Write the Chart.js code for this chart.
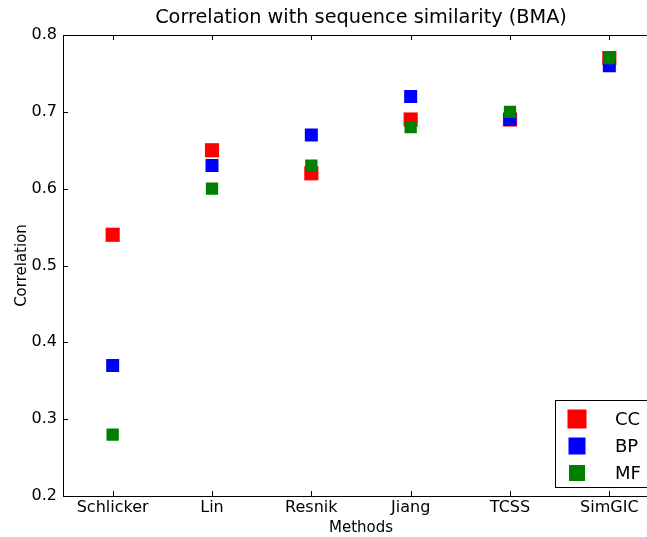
<!DOCTYPE html>
<html>
<head>
<meta charset="utf-8">
<script src="https://cdn.jsdelivr.net/npm/chart.js@4/dist/chart.umd.min.js"></script>
<style>
  html, body { margin: 0; padding: 0; overflow: hidden; background: #fff; }
  #wrap { width: 647px; height: 537px; overflow: hidden; }
</style>
</head>
<body>
<div id="wrap"><canvas id="corrChart" width="670" height="537"></canvas></div>
<script>
// Correlation with sequence similarity (BMA)
const methods = ["Schlicker", "Lin", "Resnik", "Jiang", "TCSS", "SimGIC"];
const ccValues = [0.54, 0.65, 0.62, 0.69, 0.69, 0.77];
const bpValues = [0.37, 0.63, 0.67, 0.72, 0.69, 0.76];
const mfValues = [0.28, 0.60, 0.63, 0.68, 0.70, 0.77];
const seriesNames = ["CC", "BP", "MF"];
const yTicks = [0.2, 0.3, 0.4, 0.5, 0.6, 0.7, 0.8];
const chartTitle = "Correlation with sequence similarity (BMA)";

const FONT = "'DejaVu Sans', sans-serif";

function series(label, data, color, radius, order) {
  return {
    label,
    data,
    showLine: false,
    pointStyle: "rect",
    pointRadius: radius,
    pointHoverRadius: radius,
    pointBackgroundColor: color,
    pointBorderColor: color,
    pointBorderWidth: 0,
    borderColor: color,
    backgroundColor: color,
    order,
  };
}

// title over the axes, frame, inward ticks and the boxed legend like matplotlib
const framePlugin = {
  id: "frame",
  afterDraw(chart) {
    const { ctx, chartArea: a, scales } = chart;
    const len = 5;
    ctx.save();
    ctx.fillStyle = "#000";
    ctx.font = "19.3px " + FONT;
    ctx.textAlign = "center";
    ctx.textBaseline = "middle";
    ctx.fillText(chartTitle, (a.left + a.right) / 2, 18);

    ctx.strokeStyle = "#000";
    ctx.lineWidth = 1;
    ctx.strokeRect(a.left + 0.5, a.top + 0.5, a.right - a.left, a.bottom - a.top);
    ctx.beginPath();
    methods.forEach((m, i) => {
      const x = Math.round(scales.x.getPixelForValue(i)) + 0.5;
      ctx.moveTo(x, a.bottom);
      ctx.lineTo(x, a.bottom - len);
      ctx.moveTo(x, a.top);
      ctx.lineTo(x, a.top + len);
    });
    yTicks.forEach((v) => {
      const y = Math.round(scales.y.getPixelForValue(v)) + 0.5;
      ctx.moveTo(a.left, y);
      ctx.lineTo(a.left + len, y);
      ctx.moveTo(a.right, y);
      ctx.lineTo(a.right - len, y);
    });
    ctx.stroke();

    // legend box
    const bx = 555, by = 400, bw = 120, bh = 87;
    ctx.fillStyle = "#fff";
    ctx.fillRect(bx, by, bw, bh);
    ctx.strokeRect(bx + 0.5, by + 0.5, bw, bh);
    const sizes = [19, 17, 16];
    const rows = [419, 446, 473];
    chart.data.datasets.forEach((ds, i) => {
      const s = sizes[i];
      ctx.fillStyle = ds.backgroundColor;
      ctx.fillRect(577 - s / 2, rows[i] - s / 2, s, s);
      ctx.fillStyle = "#000";
      ctx.font = "18px " + FONT;
      ctx.textAlign = "left";
      ctx.textBaseline = "middle";
      ctx.fillText(ds.label, 615, rows[i] + 1);
    });
    ctx.restore();
  },
};

new Chart(document.getElementById("corrChart"), {
  type: "line",
  data: {
    labels: methods,
    datasets: [
      series(seriesNames[0], ccValues, "#ff0000", 10, 3),
      series(seriesNames[1], bpValues, "#0000ff", 9.2, 2),
      series(seriesNames[2], mfValues, "#008000", 8.7, 1),
    ],
  },
  options: {
    responsive: false,
    animation: false,
    // the axes run past the right edge of the picture (clipped by #wrap)
    layout: { padding: { left: 0, right: 11, top: 35, bottom: 0 } },
    plugins: {
      legend: { display: false },
      tooltip: { enabled: false },
      title: { display: false },
    },
    scales: {
      x: {
        type: "category",
        offset: true,
        grid: { display: false, drawTicks: false },
        border: { display: false },
        ticks: {
          color: "#000",
          padding: 2,
          maxRotation: 0,
          font: { family: FONT, size: 16, lineHeight: 1.2 },
        },
        title: {
          display: true,
          text: "Methods",
          color: "#000",
          padding: { top: 0, bottom: 0 },
          font: { family: FONT, size: 15, lineHeight: 1.2 },
        },
        afterFit(scale) {
          scale.height = 41;
          scale.paddingLeft = 0;
          scale.paddingRight = 0;
        },
      },
      y: {
        min: 0.2,
        max: 0.8,
        grid: { display: false, drawTicks: false },
        border: { display: false },
        afterBuildTicks(scale) {
          scale.ticks = yTicks.map((v) => ({ value: v }));
        },
        ticks: {
          color: "#000",
          padding: 6,
          font: { family: FONT, size: 16, lineHeight: 1.2 },
          callback: (v) => Number(v).toFixed(1),
        },
        title: {
          display: true,
          text: "Correlation",
          color: "#000",
          padding: { top: 13, bottom: 0 },
          font: { family: FONT, size: 15, lineHeight: 1.2 },
        },
        afterFit(scale) {
          scale.width = 63;
          scale.paddingTop = 0;
          scale.paddingBottom = 0;
        },
      },
    },
  },
  plugins: [framePlugin],
});
</script>
</body>
</html>
